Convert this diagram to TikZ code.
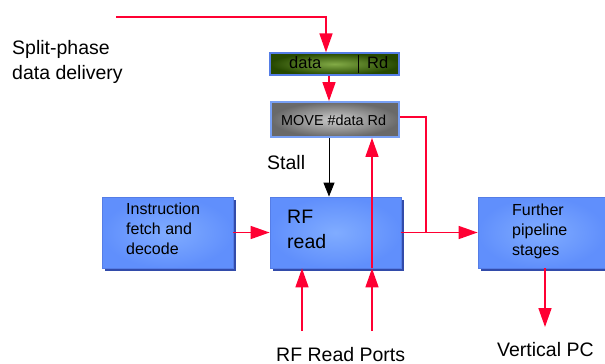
\documentclass[tikz,border=0pt]{standalone}
\usepackage{fontspec}
\setmainfont{Liberation Sans}
\usetikzlibrary{arrows.meta}
\definecolor{redline}{RGB}{255,0,51}
\definecolor{boxblue}{RGB}{96,143,252}
\definecolor{boxblueC}{RGB}{128,172,255}
\definecolor{edgeblue}{RGB}{85,125,230}
\definecolor{shadowblue}{RGB}{50,75,170}
\definecolor{greenout}{RGB}{38,72,0}
\definecolor{greenin}{RGB}{130,170,70}
\definecolor{grayout}{RGB}{105,105,105}
\definecolor{grayin}{RGB}{205,205,205}
\definecolor{lightedge}{RGB}{120,160,245}
\begin{document}
\begin{tikzpicture}[x=1pt,y=-1pt,
  bluebox/.style={draw=edgeblue, line width=0.8pt, shading=radial, inner color=boxblueC, outer color=boxblue, inner sep=0pt},
  shadowbox/.style={fill=shadowblue, draw=none, inner sep=0pt},
  greenbox/.style={draw=edgeblue, line width=1.2pt, shading=radial, inner color=greenin, outer color=greenout, inner sep=0pt},
  graybox/.style={draw=lightedge, line width=1.8pt, shading=radial, inner color=grayin, outer color=grayout, inner sep=0pt},
  redarrow/.style={draw=redline, line width=1.6pt, -{Triangle[length=19pt,width=13pt]}},
  redplain/.style={draw=redline, line width=1.6pt},
  blackarrow/.style={draw=black, line width=1pt, -{Triangle[length=14pt,width=11pt]}},
  lbl/.style={inner sep=0pt, anchor=base west, align=left},
  big/.style={lbl, font=\fontsize{19.5}{24.5}\selectfont},
  mid/.style={lbl, font=\fontsize{16}{19.8}\selectfont},
]
\useasboundingbox (0,0) rectangle (605,364);

% shadows
\node[shadowbox, minimum width=131pt, minimum height=71pt] (ifds) at (170,235) {};
\node[shadowbox, minimum width=131pt, minimum height=71pt] (rfs) at (338,235) {};
\node[shadowbox, minimum width=127pt, minimum height=71pt] (fpss) at (544,235) {};
% boxes
\node[bluebox, minimum width=131pt, minimum height=71pt] (ifd) at (167.5,232.5) {};
\node[bluebox, minimum width=131pt, minimum height=71pt] (rf) at (335.5,232.5) {};
\node[bluebox, minimum width=127pt, minimum height=71pt] (fps) at (541.5,232.5) {};
\node[greenbox, minimum width=129pt, minimum height=22pt] (data) at (334.5,64) {};
\node[graybox, minimum width=128pt, minimum height=35pt] (move) at (335,119.5) {};
\draw[black, line width=1pt] (358,55) -- (358,73);

% box texts (base anchor = last line)
\node[mid] (ifdt) at (126,254) {Instruction\\fetch and\\decode};
\node[big] (rft) at (287,248) {RF\\read};
\node[mid] (fpst) at (512,255) {Further\\pipeline\\stages};
\node[mid, font=\fontsize{16.5}{20}\selectfont] (datat) at (289,68) {data};
\node[mid, font=\fontsize{16.5}{20}\selectfont] (rdt) at (367,68) {Rd};
\node[lbl, font=\fontsize{14.4}{17}\selectfont] (movet) at (281,125) {MOVE \#data Rd};

% labels
\node[big] (split) at (12,79) {Split-phase\\data delivery};
\node[big] (stall) at (267,169) {Stall};
\node[big] (ports) at (276,361) {RF Read Ports};
\node[big] (vpc) at (497,356) {Vertical PC};

% coordinates
\coordinate (src) at (116,17);
\coordinate (p1) at (302,331);
\coordinate (p2) at (372,331);
\coordinate (vout) at (545,327);
\coordinate (jn) at (426,117);

% connectors
\draw[redarrow] (src) -| ([xshift=-8.5pt]data.north);
\draw[redarrow] ([xshift=-5.5pt]data.south) -- ([xshift=-5.5pt]data.south |- move.north);
\draw[blackarrow] ([xshift=-6pt]move.south) -- ([xshift=-6pt]move.south |- rf.north);
\draw[redarrow] (ifd.east) -- (rf.west);
\draw[redarrow] (rf.east) -- (fps.west);
\draw[redplain] (move.east |- jn) -- (jn) -- (jn |- rf.east);
\draw[redarrow] (p1) -- (p1 |- rf.south);
\draw[redarrow] (p2) -- (p2 |- rf.south);
\draw[redarrow] (p2 |- rf.south) -- (p2 |- move.south);
\draw[redarrow] (fps.south -| vout) -- (vout);
\end{tikzpicture}
\end{document}
